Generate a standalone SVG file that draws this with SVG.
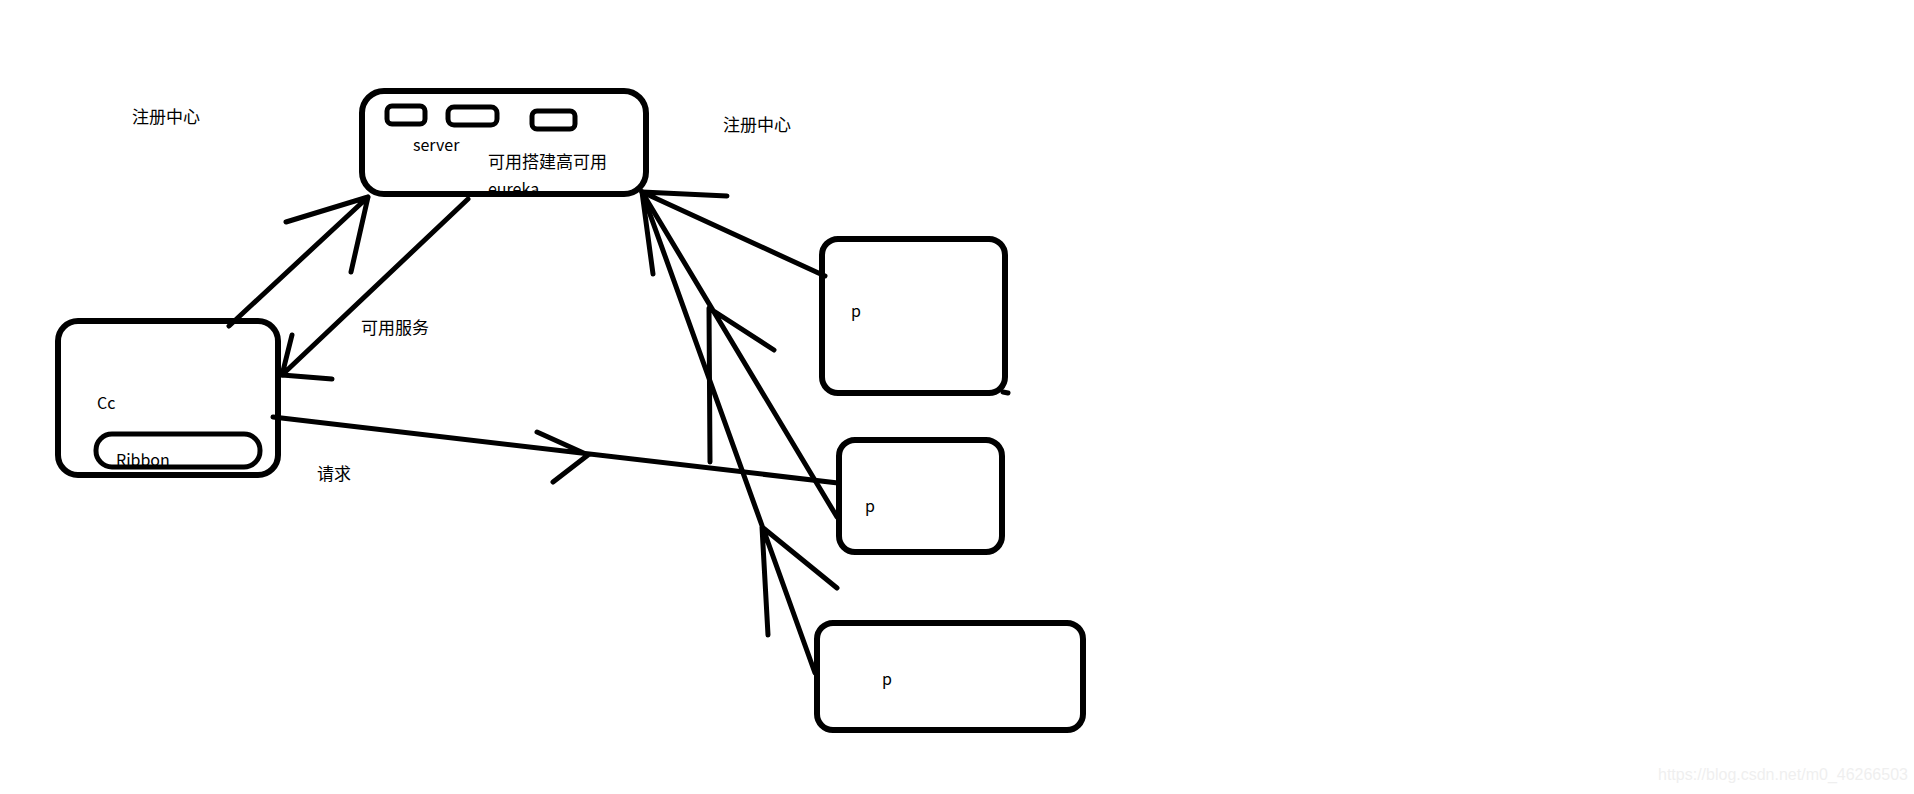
<svg xmlns="http://www.w3.org/2000/svg" width="1914" height="794" viewBox="0 0 1914 794">
<style>
.box{fill:none;stroke:#000;stroke-width:6}
.sm{fill:none;stroke:#000;stroke-width:5}
.ln{fill:none;stroke:#000;stroke-width:5;stroke-linecap:round;stroke-linejoin:round}
text{font-family:"Noto Sans CJK SC","Noto Sans",sans-serif;font-size:16px;fill:#000}
.zh{font-size:17px}
.wm{font-family:"Liberation Sans",Arial,sans-serif;font-size:16px;fill:#efefef}
</style>
<rect width="1914" height="794" fill="#fff"/>
<text class="zh" x="132" y="123">注册中心</text>
<text class="zh" x="723" y="131">注册中心</text>
<g id="server">
<text x="413" y="151">server</text>
<text class="zh" x="488" y="168">可用搭建高可用</text>
<text x="488" y="195">eureka</text>
<rect class="box" x="362" y="91" width="284" height="103" rx="22"/>
<rect class="sm" x="387" y="106" width="38" height="18" rx="5"/>
<rect class="sm" x="448" y="107" width="49" height="18" rx="6"/>
<rect class="sm" x="532" y="111" width="43" height="18" rx="5"/>
</g>
<g id="consumer">
<rect class="box" x="58" y="321" width="220" height="154" rx="20"/>
<rect class="sm" x="96" y="434" width="164" height="33" rx="16"/>
<text x="97" y="409">Cc</text>
<text x="116" y="466">Ribbon</text>
</g>
<g id="p1">
<rect class="box" x="822" y="239" width="183" height="154" rx="16"/>
<path class="ln" d="M1003,392 L1008,393"/>
<text x="851" y="317">p</text>
</g>
<g id="p2">
<rect class="box" x="839" y="440" width="163" height="112" rx="16"/>
<text x="865" y="512">p</text>
</g>
<g id="p3">
<rect class="box" x="817" y="623" width="266" height="107" rx="16"/>
<text x="882" y="685">p</text>
</g>
<g id="connectors">
<path class="ln" d="M229,326 L368,197 M286,222 L368,197 L351,272"/>
<path class="ln" d="M468,199 L282,375 M292,335 L282,375 L332,379"/>
<text class="zh" x="361" y="334">可用服务</text>
<path class="ln" d="M273,417 L838,483 M537,432 L588,455 L553,482"/>
<text class="zh" x="317" y="480">请求</text>
<path class="ln" d="M825,276 L642,192 L653,274 M642,192 L727,196"/>
<path class="ln" d="M642,192 L837,517 M710,462 L709,308 L774,350"/>
<path class="ln" d="M642,192 L815,673 M768,635 L762,527 L837,588"/>
</g>
<text class="wm" x="1658" y="780">https://blog.csdn.net/m0_46266503</text>
</svg>
